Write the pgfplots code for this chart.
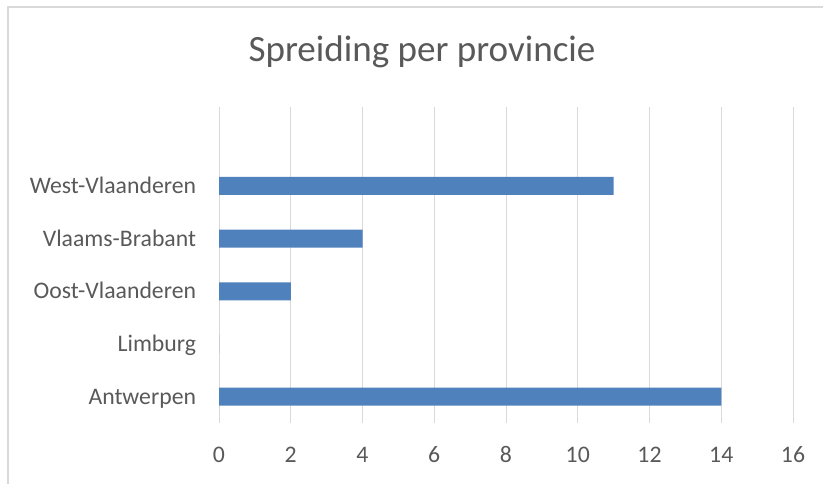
\documentclass[border=0pt]{standalone}
\usepackage{pgfplots}
\pgfplotsset{compat=1.18}
\usepackage{fontspec}
\setmainfont{Carlito}
\definecolor{barblue}{HTML}{4F81BD}
\definecolor{txtgray}{HTML}{595959}
\definecolor{gridgray}{HTML}{D9D9D9}
\definecolor{bordergray}{HTML}{D9D9D9}
\begin{document}
\begin{tikzpicture}[x=0.75pt,y=0.75pt]
\useasboundingbox (0,0) rectangle (823,484);
\draw[bordergray, line width=1.5pt] (8,0) -- (8,477) -- (823,477);
\node[txtgray, font=\fontsize{27.8}{32}\selectfont] at (422,432) {Spreiding per provincie};
\begin{axis}[
  at={(219pt*0.75,61pt*0.75)}, anchor=south west,
  scale only axis,
  width=430.5pt, height=237pt,
  xbar, bar width=13.5pt,
  xmin=0, xmax=16,
  ymin=-0.5, ymax=5.5,
  xtick={0,2,...,16},
  ytick={0,1,2,3,4},
  yticklabels={Antwerpen,Limburg,Oost-Vlaanderen,Vlaams-Brabant,West-Vlaanderen},
  axis line style={draw=none},
  major tick length=0pt,
  xmajorgrids, grid style={gridgray, line width=0.75pt},
  ymajorgrids=false,
  tick label style={txtgray, font=\fontsize{17.8}{21}\selectfont},
  /pgf/number format/assume math mode=true,
  xticklabel style={anchor=base, inner sep=0pt, yshift=-30pt},
  yticklabel style={anchor=base east, inner sep=0pt, xshift=-17pt, yshift=-5.6pt},
  clip=false,
]
\addplot[fill=barblue, draw=none] coordinates {(14,0) (0,1) (2,2) (4,3) (11,4)};
\end{axis}
\end{tikzpicture}
\end{document}
